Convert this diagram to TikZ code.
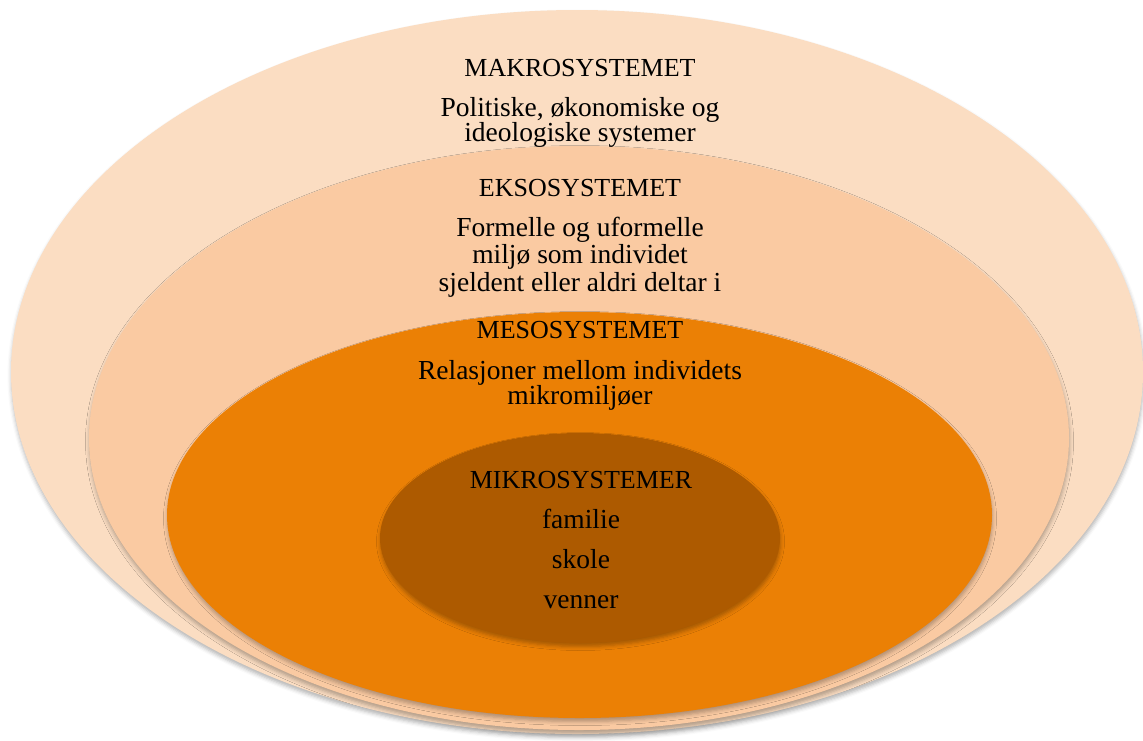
\documentclass[tikz,border=0pt]{standalone}
\usepackage{fontspec}
\setmainfont{Liberation Serif}
\usetikzlibrary{shadows.blur}
\definecolor{cMakro}{HTML}{FBDDC2}
\definecolor{cEkso}{HTML}{FACAA2}
\definecolor{cMeso}{HTML}{EB8005}
\definecolor{cMikro}{HTML}{AD5A00}
\tikzset{
  ring/.style={blur shadow={shadow xshift=0.5pt, shadow yshift=-3.5pt, shadow blur radius=4pt, shadow opacity=30}},
  txt/.style={anchor=base, inner sep=0pt, font=\fontsize{27.5}{32}\selectfont, text=black},
  ttl/.style={txt, font=\fontsize{26}{30}\selectfont}
}
\begin{document}
\begin{tikzpicture}[x=1pt,y=-1pt]
\useasboundingbox (0,0) rectangle (1143,740);
\fill[cMakro, ring] (577,372) ellipse [x radius=566pt, y radius=362pt];
\fill[cEkso, ring] (579,438) ellipse [x radius=490pt, y radius=292pt];
\fill[cMeso, ring] (579.5,515) ellipse [x radius=412.5pt, y radius=203pt];
\fill[cMikro, ring] (580,538) ellipse [x radius=200pt, y radius=105pt];
\node[ttl] (makro) at (580,76) {MAKROSYSTEMET};
\node[txt] (makro1) at (580,116) {Politiske, økonomiske og};
\node[txt] (makro2) at (580,141) {ideologiske systemer};
\node[ttl] (ekso) at (580,196) {EKSOSYSTEMET};
\node[txt] (ekso1) at (580,236) {Formelle og uformelle};
\node[txt] (ekso2) at (580,263) {miljø som individet};
\node[txt] (ekso3) at (580,291) {sjeldent eller aldri deltar i};
\node[ttl] (meso) at (580,338) {MESOSYSTEMET};
\node[txt] (meso1) at (580,379) {Relasjoner mellom individets};
\node[txt] (meso2) at (580,404) {mikromiljøer};
\node[ttl] (mikro) at (581,488) {MIKROSYSTEMER};
\node[txt] (mikro1) at (581,528) {familie};
\node[txt] (mikro2) at (581,568) {skole};
\node[txt] (mikro3) at (581,608) {venner};
\end{tikzpicture}
\end{document}
